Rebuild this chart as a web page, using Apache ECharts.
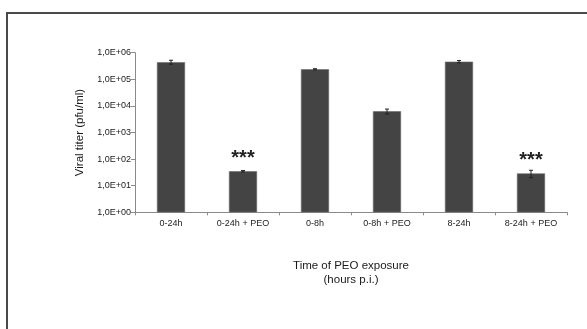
<!DOCTYPE html>
<html>
<head>
<meta charset="utf-8">
<script src="https://cdn.jsdelivr.net/npm/echarts@6/dist/echarts.min.js"></script>
<style>
html,body{margin:0;padding:0;background:#fff;}
#main{width:587px;height:329px;}
</style>
</head>
<body>
<div id="main"></div>
<script>
// Data
var categories = ['0-24h', '0-24h + PEO', '0-8h', '0-8h + PEO', '8-24h', '8-24h + PEO'];
var titerValues = [440000, 35, 238000, 6300, 460000, 29];
var errorLow = [370000, 33, 225000, 4950, 420000, 20];
var errorHigh = [520000, 37, 250000, 7600, 510000, 38];
var significance = ['', '***', '', '', '', '***'];
var yTickLabels = ['1,0E+00', '1,0E+01', '1,0E+02', '1,0E+03', '1,0E+04', '1,0E+05', '1,0E+06'];
var yAxisTitle = 'Viral titer (pfu/ml)';
var xAxisTitle = 'Time of PEO exposure\n(hours p.i.)';

var chart = echarts.init(document.getElementById('main'), null, {renderer: 'canvas'});
var font = 'Liberation Sans, Arial, sans-serif';

var option = {
  animation: false,
  backgroundColor: '#ffffff',
  graphic: [{
    type: 'rect',
    shape: {x: 7, y: 13, width: 640, height: 400},
    style: {fill: 'none', stroke: '#4a4a4a', lineWidth: 2},
    silent: true
  }],
  grid: {left: 135, right: 20, top: 52.7, bottom: 116.7},
  xAxis: {
    type: 'category',
    data: categories,
    name: xAxisTitle,
    nameLocation: 'middle',
    nameGap: 47,
    nameTextStyle: {fontFamily: font, fontSize: 11.5, color: '#1a1a1a', lineHeight: 14},
    axisLine: {lineStyle: {color: '#8a8a8a', width: 1}},
    axisTick: {show: true, alignWithLabel: false, length: 3, lineStyle: {color: '#8a8a8a'}},
    axisLabel: {fontFamily: font, fontSize: 9, color: '#222', margin: 7, interval: 0}
  },
  yAxis: {
    type: 'log',
    logBase: 10,
    min: 1,
    max: 1000000,
    name: yAxisTitle,
    nameLocation: 'middle',
    nameGap: 38,
    nameRotate: 90,
    nameTextStyle: {fontFamily: font, fontSize: 11.5, color: '#1a1a1a'},
    splitLine: {show: false},
    axisLine: {show: true, lineStyle: {color: '#8a8a8a', width: 1}},
    axisTick: {show: true, length: 4, lineStyle: {color: '#8a8a8a'}},
    axisLabel: {
      fontFamily: font, fontSize: 9, color: '#222', margin: 4,
      formatter: function (v) {
        var e = Math.round(Math.log10(v));
        return yTickLabels[e] || '';
      }
    }
  },
  series: [{
    type: 'bar',
    data: titerValues,
    barWidth: '39%',
    itemStyle: {color: '#444444', borderColor: '#6a6a6a', borderWidth: 0.6},
    label: {
      show: true,
      position: 'top',
      distance: 3,
      fontFamily: font,
      fontSize: 20,
      fontWeight: 'bold',
      color: '#222',
      formatter: function (p) { return significance[p.dataIndex]; }
    },
    z: 2
  }, {
    type: 'custom',
    data: categories.map(function (c, i) { return [i, errorLow[i], errorHigh[i]]; }),
    renderItem: function (params, api) {
      var i = api.value(0);
      var lo = api.coord([i, api.value(1)]);
      var hi = api.coord([i, api.value(2)]);
      var hw = 2;
      return {
        type: 'group',
        children: [
          {type: 'line', shape: {x1: lo[0], y1: lo[1], x2: hi[0], y2: hi[1]}, style: {stroke: '#222', lineWidth: 1}},
          {type: 'line', shape: {x1: lo[0] - hw, y1: lo[1], x2: lo[0] + hw, y2: lo[1]}, style: {stroke: '#222', lineWidth: 1}},
          {type: 'line', shape: {x1: hi[0] - hw, y1: hi[1], x2: hi[0] + hw, y2: hi[1]}, style: {stroke: '#222', lineWidth: 1}}
        ]
      };
    },
    z: 3
  }]
};
chart.setOption(option);
</script>
</body>
</html>
